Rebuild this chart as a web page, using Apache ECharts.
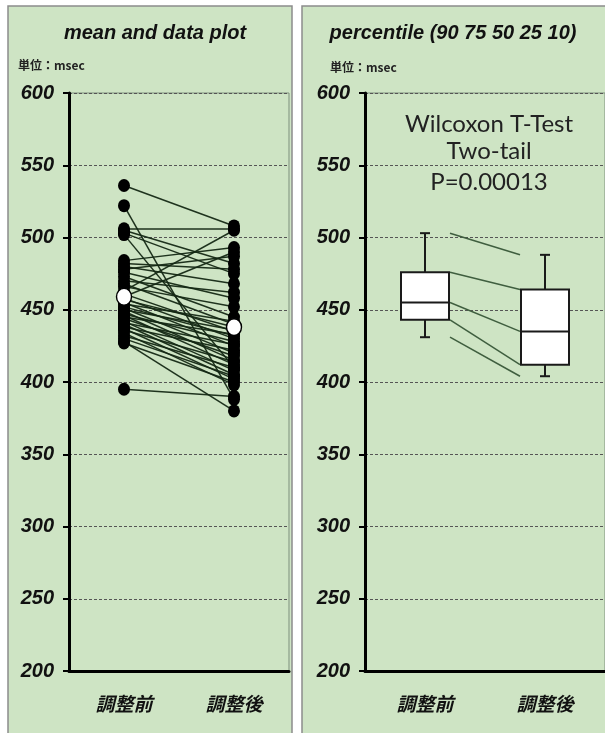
<!DOCTYPE html>
<html>
<head>
<meta charset="utf-8">
<script src="https://cdn.jsdelivr.net/npm/echarts@6/dist/echarts.min.js"></script>
<style>
  html, body { margin: 0; padding: 0; background: #fff; }
  #main { width: 605px; height: 733px; }
</style>
</head>
<body>
<div id="main"></div>
<script>
var chart = echarts.init(document.getElementById('main'), null, { renderer: 'canvas' });

// categories / ticks
var categories = ['調整前', '調整後'];
var yTicks = [200, 250, 300, 350, 400, 450, 500, 550, 600];

// paired data (msec)
var beforeVals = [536, 522, 506, 505, 503, 502, 484, 482, 480, 478, 476, 473, 470, 468,
  466, 463, 461, 459, 458, 457, 455, 454, 452, 451, 450, 449, 447, 446, 445, 444, 442,
  441, 440, 438, 437, 436, 434, 432, 430, 428, 427, 395];
var afterVals = [508, 388, 506, 482, 475, 410, 493, 478, 468, 487, 458, 445, 462, 440,
  452, 505, 435, 490, 430, 438, 425, 442, 432, 420, 436, 415, 428, 412, 433, 418, 408,
  426, 405, 422, 402, 414, 398, 410, 404, 380, 400, 390];
var meanVals = [459, 438];

// percentiles 10 25 50 75 90
var pctBefore = [431, 443, 455, 476, 503];
var pctAfter = [404, 412, 435, 464, 488];

var panelColor = '#cee4c4';

function yAxisFor(gi) {
  return {
    type: 'value', gridIndex: gi, min: yTicks[0], max: yTicks[yTicks.length - 1], interval: 50,
    axisLine: { show: true, lineStyle: { color: '#000', width: 3 } },
    axisTick: { show: true, inside: false, length: 6, lineStyle: { color: '#000', width: 2 } },
    axisLabel: { color: '#111', fontSize: 20, margin: 15, fontFamily: 'Liberation Sans',
      fontWeight: 'bold', fontStyle: 'italic' },
    splitLine: { show: true, lineStyle: { color: '#555', width: 1, type: [3, 2] } }
  };
}
function xAxisFor(gi) {
  return {
    type: 'category', gridIndex: gi, data: categories, boundaryGap: true,
    axisLine: { show: true, lineStyle: { color: '#000', width: 3 } },
    axisTick: { show: false },
    axisLabel: { color: '#111', fontSize: 19, fontWeight: 'bold', fontStyle: 'italic',
      fontFamily: 'Noto Sans CJK JP', margin: 23 },
    splitLine: { show: false }
  };
}

var pairLines = beforeVals.map(function (b, i) {
  return { coords: [[0, b], [1, afterVals[i]]] };
});

var connectors = pctBefore.map(function (b, i) { return [b, pctAfter[i]]; });
var boxData = [[0].concat(pctBefore), [1].concat(pctAfter)];
var BOX_W = 48;

option = {
  animation: false,
  backgroundColor: '#fff',
  graphic: [
    { type: 'rect', z: -10, shape: { x: 8, y: 6, width: 284, height: 740 },
      style: { fill: panelColor, stroke: '#8c8c8c', lineWidth: 1.5 } },
    { type: 'rect', z: -10, shape: { x: 302, y: 6, width: 320, height: 740 },
      style: { fill: panelColor, stroke: '#8c8c8c', lineWidth: 1.5 } },
    { type: 'text', z: 50, x: 155, y: 33, style: { text: 'mean and data plot', fill: '#111',
      font: 'italic bold 20px "Liberation Sans"', textAlign: 'center', textVerticalAlign: 'middle' } },
    { type: 'text', z: 50, x: 453, y: 33, style: { text: 'percentile (90 75 50 25 10)', fill: '#111',
      font: 'italic bold 20px "Liberation Sans"', textAlign: 'center', textVerticalAlign: 'middle' } },
    { type: 'text', z: 50, x: 18, y: 65, style: { text: '単位：msec', fill: '#222',
      font: 'bold 12px "Noto Sans CJK JP"', textVerticalAlign: 'middle' } },
    { type: 'text', z: 50, x: 330, y: 67, style: { text: '単位：msec', fill: '#222',
      font: 'bold 12px "Noto Sans CJK JP"', textVerticalAlign: 'middle' } },
    { type: 'text', z: 50, x: 489, y: 124, style: { text: 'Wilcoxon T-Test', fill: '#222',
      font: '24px Lato', textAlign: 'center', textVerticalAlign: 'middle' } },
    { type: 'text', z: 50, x: 489, y: 151, style: { text: 'Two-tail', fill: '#222',
      font: '24px Lato', textAlign: 'center', textVerticalAlign: 'middle' } },
    { type: 'text', z: 50, x: 489, y: 182, style: { text: 'P=0.00013', fill: '#222',
      font: '24px Lato', textAlign: 'center', textVerticalAlign: 'middle' } }
  ],
  grid: [
    { left: 69, top: 93, width: 220, height: 578, show: true, borderColor: '#7d8f7d', borderWidth: 1, backgroundColor: 'transparent' },
    { left: 365, top: 93, width: 260, height: 578, show: true, borderColor: '#7d8f7d', borderWidth: 1, backgroundColor: 'transparent' }
  ],
  xAxis: [xAxisFor(0), xAxisFor(1)],
  yAxis: [yAxisFor(0), yAxisFor(1)],
  series: [
    {
      type: 'lines', coordinateSystem: 'cartesian2d', xAxisIndex: 0, yAxisIndex: 0,
      data: pairLines, silent: true, z: 3,
      lineStyle: { color: '#142814', width: 1.5, opacity: 0.95 }
    },
    {
      type: 'scatter', xAxisIndex: 0, yAxisIndex: 0, z: 4,
      symbol: 'circle', symbolSize: [12, 13],
      itemStyle: { color: '#000', opacity: 1 },
      data: beforeVals.map(function (v) { return [0, v]; }).concat(afterVals.map(function (v) { return [1, v]; }))
    },
    {
      type: 'scatter', xAxisIndex: 0, yAxisIndex: 0, z: 5,
      symbol: 'circle', symbolSize: [15, 17],
      itemStyle: { color: '#fff', borderColor: '#000', borderWidth: 1.5, opacity: 1 },
      data: meanVals.map(function (v, i) { return [i, v]; })
    },
    {
      type: 'custom', xAxisIndex: 1, yAxisIndex: 1, z: 3,
      data: connectors,
      encode: { x: -1, y: [0, 1] },
      renderItem: function (params, api) {
        var p0 = api.coord([0, api.value(0)]);
        var p1 = api.coord([1, api.value(1)]);
        return { type: 'line', shape: { x1: p0[0] + BOX_W / 2 + 1, y1: p0[1], x2: p1[0] - BOX_W / 2 - 1, y2: p1[1] },
          style: { stroke: '#3f5e3f', lineWidth: 1.5 } };
      }
    },
    {
      type: 'custom', xAxisIndex: 1, yAxisIndex: 1, z: 4,
      data: boxData,
      encode: { x: 0, y: [1, 2, 3, 4, 5] },
      renderItem: function (params, api) {
        var c = api.value(0);
        var p10 = api.coord([c, api.value(1)]);
        var p25 = api.coord([c, api.value(2)]);
        var p50 = api.coord([c, api.value(3)]);
        var p75 = api.coord([c, api.value(4)]);
        var p90 = api.coord([c, api.value(5)]);
        var x = p50[0], hw = BOX_W / 2, cap = 5;
        var st = { stroke: '#1a1a1a', lineWidth: 2 };
        return {
          type: 'group',
          children: [
            { type: 'line', shape: { x1: x, y1: p90[1], x2: x, y2: p75[1] }, style: st },
            { type: 'line', shape: { x1: x, y1: p25[1], x2: x, y2: p10[1] }, style: st },
            { type: 'line', shape: { x1: x - cap, y1: p90[1], x2: x + cap, y2: p90[1] }, style: st },
            { type: 'line', shape: { x1: x - cap, y1: p10[1], x2: x + cap, y2: p10[1] }, style: st },
            { type: 'rect', shape: { x: x - hw, y: p75[1], width: BOX_W, height: p25[1] - p75[1] },
              style: { fill: '#fff', stroke: '#1a1a1a', lineWidth: 2 } },
            { type: 'line', shape: { x1: x - hw, y1: p50[1], x2: x + hw, y2: p50[1] }, style: st }
          ]
        };
      }
    }
  ]
};

chart.setOption(option);

window.onresize = function () {
  chart.resize();
};
</script>
</body>
</html>
